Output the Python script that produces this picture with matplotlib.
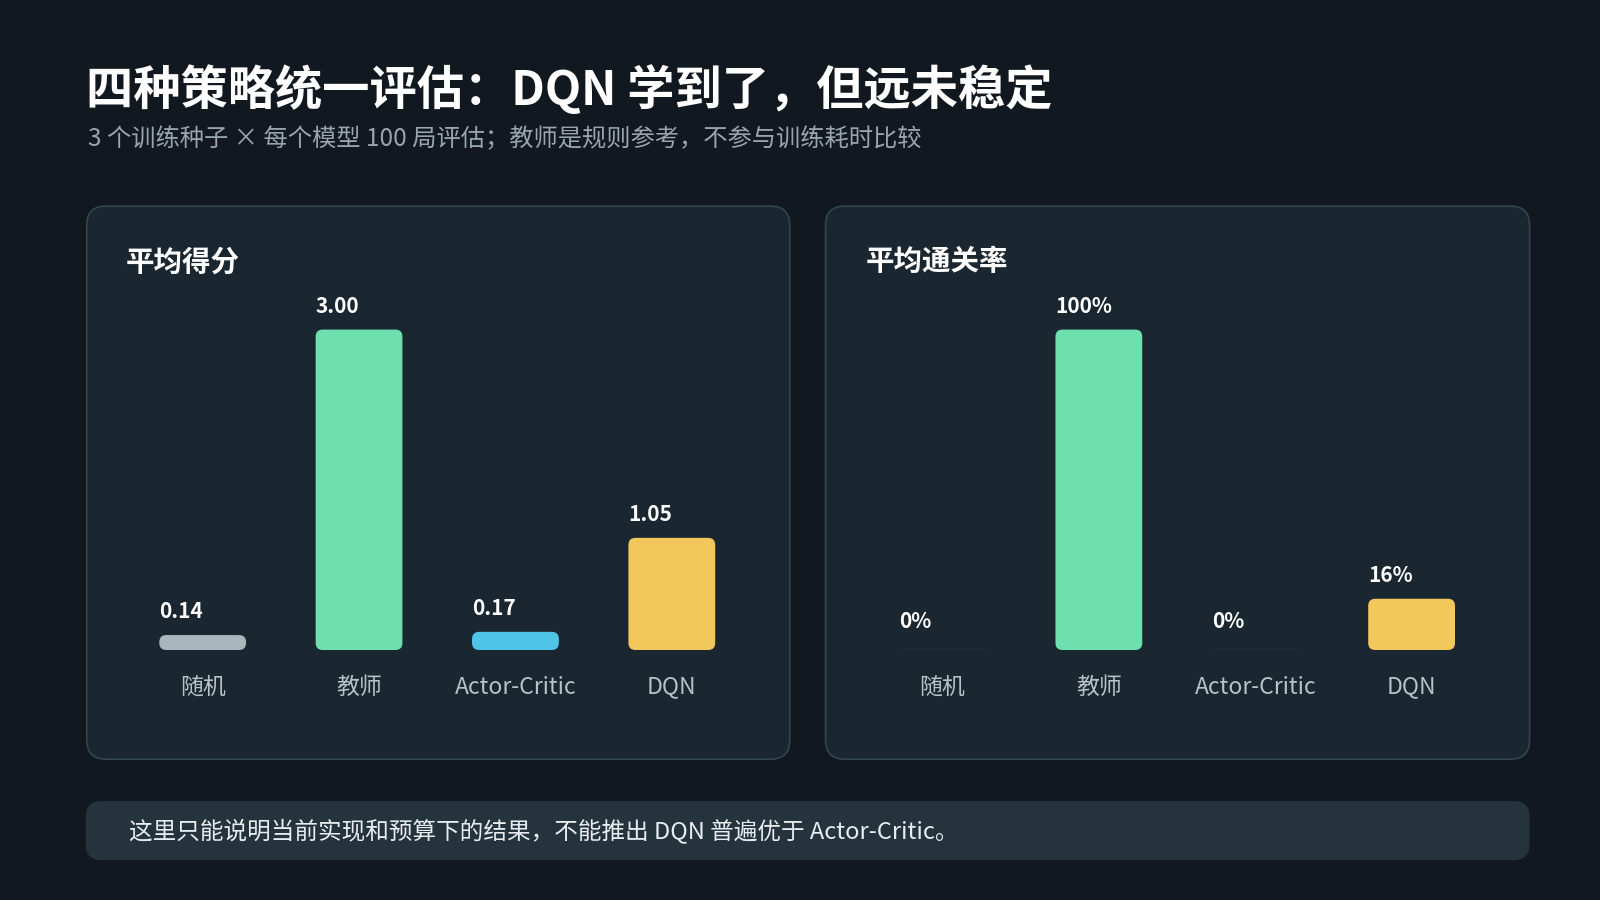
import matplotlib
matplotlib.use("Agg")
import matplotlib.pyplot as plt
from matplotlib.patches import FancyBboxPatch

plt.rcParams['font.family'] = ['Noto Sans CJK SC', 'DejaVu Sans']

categories = ["随机", "教师", "Actor-Critic", "DQN"]
scores = [0.14, 3.00, 0.17, 1.05]
score_labels = ["0.14", "3.00", "0.17", "1.05"]
pass_rates = [0, 100, 0, 16]
pass_labels = ["0%", "100%", "0%", "16%"]
colors = ["#a9b7bd", "#6ee0b0", "#4fc3e8", "#f2c75c"]

BG = "#111820"
PANEL = "#1b2730"
W, H = 1568, 882  # reference frame used for layout


def fx(x):
    return x / W


def fy(y):
    return 1 - y / H


fig = plt.figure(figsize=(16, 9), dpi=100, facecolor=BG)

fig.text(fx(84), fy(88), "四种策略统一评估：DQN 学到了，但远未稳定", color="white",
         fontsize=34, fontweight="bold", va="center")
fig.text(fx(86), fy(136), "3 个训练种子 × 每个模型 100 局评估；教师是规则参考，不参与训练耗时比较",
         color="#9aa5ab", fontsize=17.5, va="center")

# panels
for x0, x1 in [(85, 774), (809, 1499)]:
    fig.patches.append(FancyBboxPatch((fx(x0), fy(744)), fx(x1 - x0), (744 - 202) / H,
                                      boxstyle="round,pad=0,rounding_size=0.012",
                                      transform=fig.transFigure, facecolor=PANEL,
                                      edgecolor="#34454d", linewidth=1.2,
                                      mutation_aspect=16 / 9, zorder=0))
fig.patches.append(FancyBboxPatch((fx(84), fy(843)), fx(1499 - 84), (843 - 785) / H,
                                  boxstyle="round,pad=0,rounding_size=0.01",
                                  transform=fig.transFigure, facecolor="#25333d",
                                  edgecolor="none", mutation_aspect=16 / 9, zorder=0))
fig.text(fx(126), fy(815), "这里只能说明当前实现和预算下的结果，不能推出 DQN 普遍优于 Actor-Critic。",
         color="#e8eef0", fontsize=17, va="center")


def panel(left, title, values, labels, vmax):
    fig.text(fx(left + 1), fy(257), title, color="white", fontsize=20.5,
             fontweight="bold", va="center")
    ax = fig.add_axes([fx(left), fy(637), fx(613), (637 - 323) / H])
    ax.set_zorder(5)
    ax.set_xlim(-0.5, 3.5)
    ax.set_ylim(0, vmax)
    ax.axis("off")
    aspect = (vmax / 314) / (4 / 613)
    bw = 0.555
    for i, (v, lab, c) in enumerate(zip(values, labels, colors)):
        if v > 0:
            ax.add_patch(FancyBboxPatch((i - bw / 2, 0), bw, v,
                                        boxstyle="round,pad=0,rounding_size=0.045",
                                        mutation_aspect=aspect, facecolor=c,
                                        edgecolor="none", clip_on=False))
        else:
            ax.plot([i - bw / 2, i + bw / 2], [0, 0], color="#c8d0d4", lw=0.8)
        top = v + vmax * 0.04
        if v == 0:
            top = vmax * 0.055
        ax.text(i - bw / 2, top, lab, color="white", fontsize=15, fontweight="bold",
                ha="left", va="bottom", clip_on=False)
        ax.text(i, -vmax * 0.08, categories[i], color="#b7c2c7", fontsize=16.5,
                ha="center", va="top", clip_on=False)


panel(122, "平均得分", scores, score_labels, 3.0)
panel(847, "平均通关率", pass_rates, pass_labels, 100)

fig.savefig("out.png", facecolor=BG)
